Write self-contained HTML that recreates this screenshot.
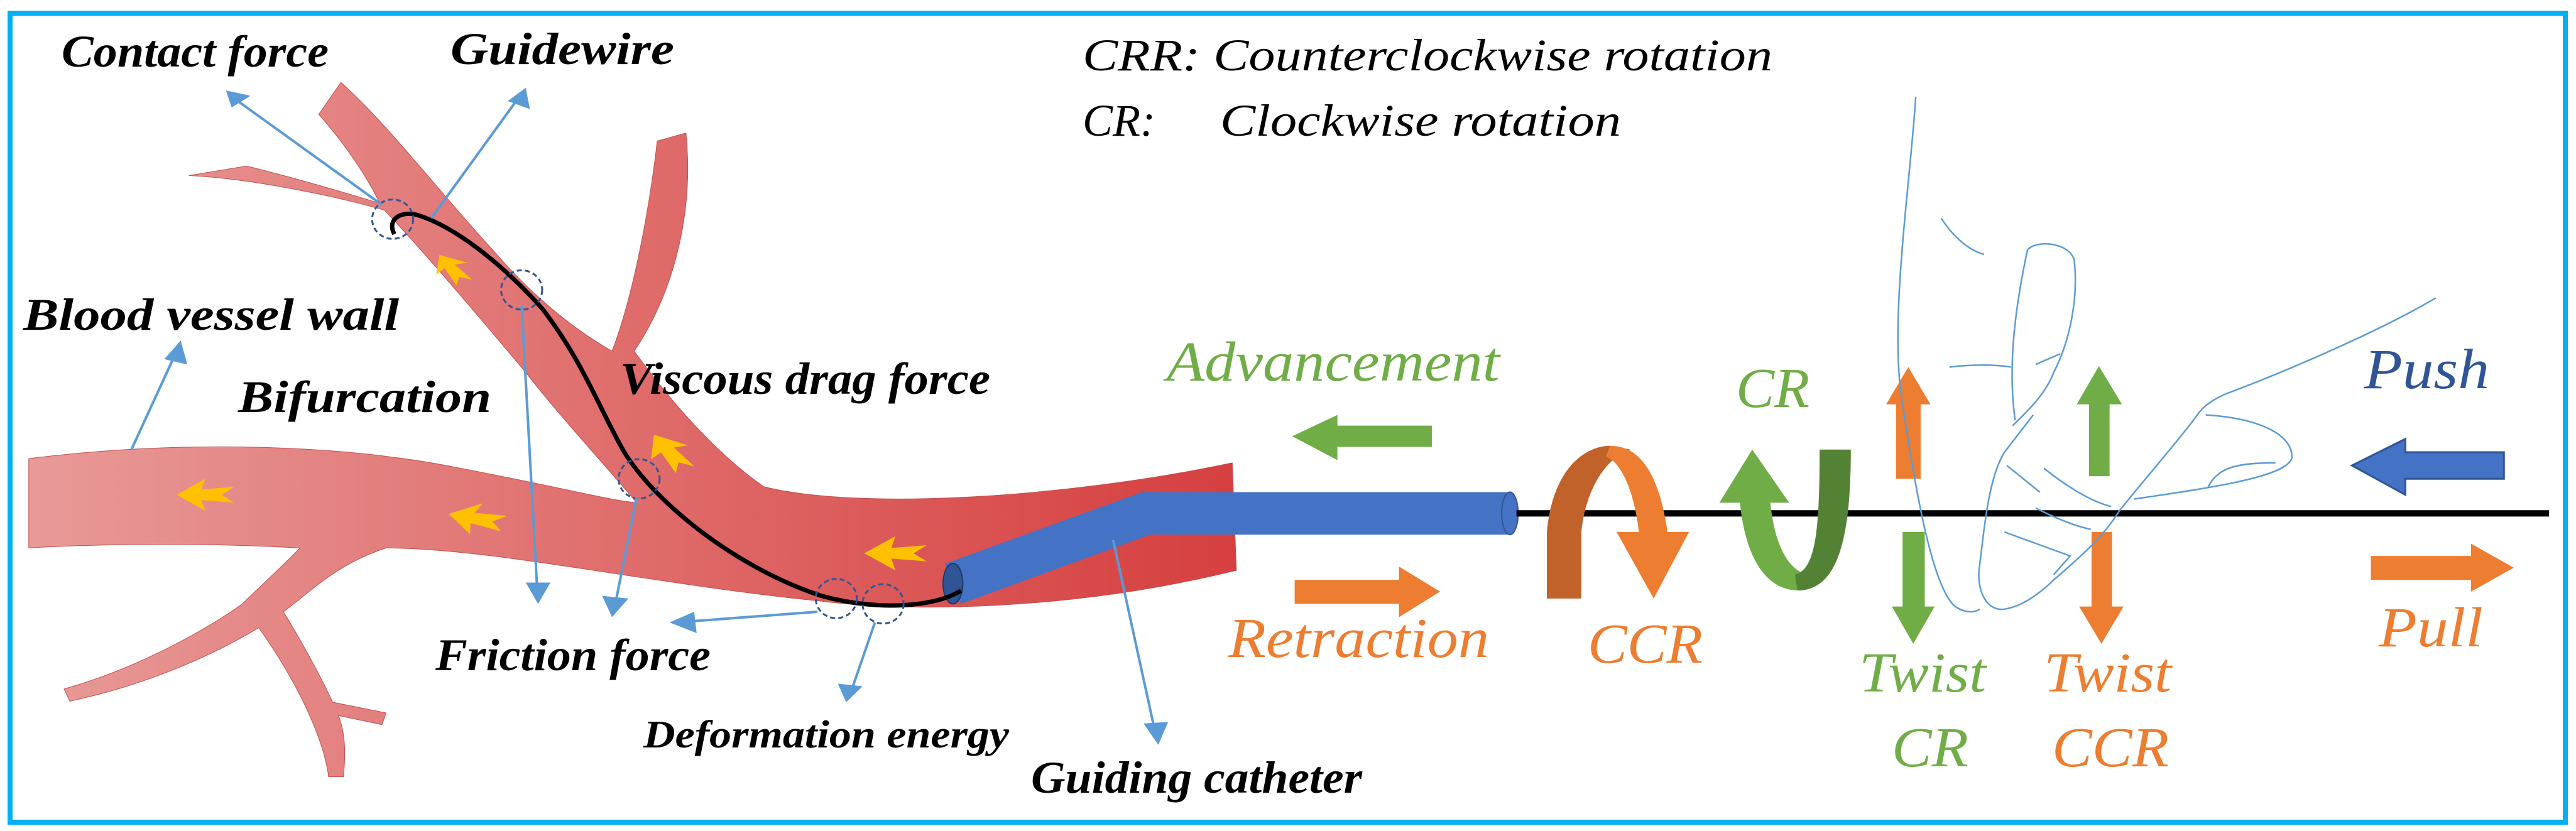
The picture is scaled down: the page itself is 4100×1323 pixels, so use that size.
<!DOCTYPE html>
<html><head><meta charset="utf-8"><style>
html,body{margin:0;padding:0;background:#fff;}
svg{display:block;}
svg text{font-family:"Liberation Serif","DejaVu Serif",serif !important;font-style:italic;}
.b{font-weight:bold;fill:#000;font-size:72px;}
</style></head><body>
<svg width="4100" height="1323" viewBox="0 0 4100 1323" xmlns="http://www.w3.org/2000/svg">
<defs>
<linearGradient id="vg" x1="0" y1="0" x2="1" y2="0">
<stop offset="0" stop-color="#e89a98"/><stop offset="1" stop-color="#d63f3f"/>
</linearGradient>
</defs>
<rect x="16" y="21" width="4067" height="1288" fill="#fff" stroke="#00b0f0" stroke-width="8"/>
<g transform="scale(1.3075,0.847)">
<path fill="url(#vg)" stroke="#c0504d" stroke-width="1" vector-effect="non-scaling-stroke" d="M35,862 C200,830 400,830 560,880 C680,915 740,940 775,945 C740,880 680,780 640,700 C580,590 520,480 468,395 C400,365 300,335 230,330 L300,312 C360,335 420,362 462,382 C450,340 420,270 388,215 L415,155 C470,230 540,370 600,470 C650,560 700,620 745,660 C770,560 790,400 800,265 L835,250 C845,400 820,550 772,660 C800,720 860,840 930,915 C1050,960 1300,935 1500,870 L1505,1072 C1300,1150 1100,1150 1000,1130 C800,1100 600,1030 470,1030 C410,1060 380,1110 345,1150 C365,1200 390,1270 405,1320 L470,1340 L465,1362 L412,1345 C422,1385 420,1430 418,1460 L400,1460 C395,1400 370,1300 315,1180 C250,1240 170,1290 85,1318 L78,1295 C170,1255 255,1180 295,1135 C325,1090 350,1055 365,1030 C250,1020 120,1022 35,1030 Z"/>
<g fill="#ffc000">
<path transform="translate(250,930)" d="M-35,0 L0,-30 L-5,-10 L35,-15 L20,0 L35,15 L-5,10 L0,30 Z"/>
<path transform="translate(580,975) rotate(15)" d="M-35,0 L0,-30 L-5,-10 L35,-15 L20,0 L35,15 L-5,10 L0,30 Z"/>
<path transform="translate(1090,1040)" d="M-38,0 L0,-32 L-5,-10 L38,-15 L22,0 L38,15 L-5,10 L0,32 Z"/>
<path transform="translate(815,850) rotate(60)" d="M-38,0 L0,-26 L-5,-9 L38,-13 L22,0 L38,13 L-5,9 L0,26 Z"/>
<path transform="translate(550,505) rotate(60)" d="M-30,0 L0,-22 L-5,-7 L30,-11 L18,0 L30,11 L-5,7 L0,22 Z"/>
</g>
<path fill="#4472c4" d="M1150,1060 L1390,925 L1838,925 L1838,1005 L1400,1005 L1170,1135 Z"/>
<ellipse cx="1838" cy="965" rx="10" ry="40" fill="#4472c4" stroke="#2f5597" stroke-width="2" vector-effect="non-scaling-stroke"/>
<ellipse cx="1160" cy="1097" rx="12" ry="38" fill="#2f5597" stroke="#203864" stroke-width="2" vector-effect="non-scaling-stroke"/>
<line x1="1846" y1="965" x2="3103" y2="965" stroke="#000" stroke-width="12"/>
<path d="M480,440 C470,410 490,395 510,405 C560,430 620,510 660,580 C710,680 730,770 760,850 C800,950 900,1070 1000,1120 C1070,1150 1140,1140 1170,1110" fill="none" stroke="#000" stroke-width="7" vector-effect="non-scaling-stroke"/>
<g fill="none" stroke="#2f5597" stroke-width="3" stroke-dasharray="8,5">
<ellipse cx="478" cy="412" rx="25" ry="37" vector-effect="non-scaling-stroke"/>
<ellipse cx="635" cy="545" rx="25" ry="37" vector-effect="non-scaling-stroke"/>
<ellipse cx="778" cy="900" rx="25" ry="37" vector-effect="non-scaling-stroke"/>
<ellipse cx="1018" cy="1125" rx="25" ry="37" vector-effect="non-scaling-stroke"/>
<ellipse cx="1075" cy="1135" rx="25" ry="37" vector-effect="non-scaling-stroke"/>
</g>
<g stroke="#5b9bd5" stroke-width="4" fill="none">
<line x1="465" y1="385" x2="285" y2="185" vector-effect="non-scaling-stroke"/>
<line x1="525" y1="410" x2="632" y2="182" vector-effect="non-scaling-stroke"/>
<line x1="160" y1="845" x2="215" y2="660" vector-effect="non-scaling-stroke"/>
<line x1="635" y1="575" x2="654" y2="1110" vector-effect="non-scaling-stroke"/>
<line x1="775" y1="935" x2="749" y2="1135" vector-effect="non-scaling-stroke"/>
<line x1="995" y1="1150" x2="840" y2="1168" vector-effect="non-scaling-stroke"/>
<line x1="1065" y1="1170" x2="1036" y2="1300" vector-effect="non-scaling-stroke"/>
<line x1="1355" y1="1015" x2="1406" y2="1375" vector-effect="non-scaling-stroke"/>
</g>
<g fill="#5b9bd5">
<polygon points="275,170 305,180 282,202"/>
<polygon points="640,165 645,205 618,190"/>
<polygon points="220,640 228,685 200,675"/>
<polygon points="655,1135 640,1095 670,1095"/>
<polygon points="745,1160 733,1120 765,1125"/>
<polygon points="815,1170 845,1150 848,1190"/>
<polygon points="1030,1320 1020,1285 1050,1290"/>
<polygon points="1410,1400 1392,1360 1422,1357"/>
</g>
<polygon fill="#70ad47" points="1573,820 1628,780 1628,800 1743,800 1743,840 1628,840 1628,865"/>
<polygon fill="#ed7d31" points="1576,1090 1703,1090 1703,1065 1753,1112 1703,1160 1703,1135 1576,1135"/>
<polygon fill="#4472c4" stroke="#2f5597" stroke-width="3" vector-effect="non-scaling-stroke" points="2863,875 2928,825 2928,850 3048,850 3048,900 2928,900 2928,930"/>
<polygon fill="#ed7d31" points="2886,1045 3008,1045 3008,1022 3060,1067 3008,1112 3008,1090 2886,1090"/>
<polygon fill="#ed7d31" points="2308,900 2308,760 2296,760 2323,690 2350,760 2338,760 2338,900"/>
<polygon fill="#70ad47" points="2316,1000 2343,1000 2343,1140 2355,1140 2329,1210 2303,1140 2316,1140"/>
<polygon fill="#70ad47" points="2543,895 2543,760 2528,760 2555,688 2583,760 2568,760 2568,895"/>
<polygon fill="#ed7d31" points="2546,1000 2571,1000 2571,1140 2585,1140 2558,1210 2531,1140 2546,1140"/>
<path fill="#c0622a" d="M1883,1125 L1883,1000 C1890,880 1930,838 1960,838 L1985,845 C1955,860 1930,920 1925,1000 L1925,1125 Z"/>
<path fill="#ed7d31" d="M1960,838 C2000,838 2020,900 2030,1000 L2056,1000 L2013,1125 L1968,1000 L1995,1000 C1990,930 1975,870 1955,858 Z"/>
<path fill="#70ad47" d="M2133,845 L2178,945 L2155,945 C2160,1020 2175,1070 2200,1080 L2190,1110 C2150,1110 2125,1050 2118,945 L2093,945 Z"/>
<path fill="#548235" d="M2188,1110 C2240,1110 2253,1000 2253,845 L2215,845 C2215,1000 2210,1070 2185,1080 Z"/>
<g fill="none" stroke="#5b9bd5" stroke-width="2.5">
<path vector-effect="non-scaling-stroke" d="M2332,182 C2325,350 2300,600 2315,750 C2330,900 2350,1100 2380,1140 C2395,1155 2405,1150 2410,1145"/>
<path vector-effect="non-scaling-stroke" d="M2363,410 C2375,440 2395,470 2415,478"/>
<path vector-effect="non-scaling-stroke" d="M2453,790 C2445,700 2450,600 2468,470 C2478,450 2520,455 2525,490 C2530,560 2520,640 2500,700 C2490,740 2470,770 2450,800"/>
<path vector-effect="non-scaling-stroke" d="M2373,690 C2400,685 2430,685 2448,690 M2478,685 L2508,665"/>
<path vector-effect="non-scaling-stroke" d="M2965,560 C2900,620 2780,700 2710,740 C2680,760 2675,780 2670,790 C2640,850 2600,920 2580,960 C2560,1010 2530,1050 2500,1090 C2480,1120 2460,1140 2440,1145 C2415,1150 2405,1100 2410,1060 C2415,1000 2420,900 2440,850 C2455,820 2465,800 2475,780"/>
<path vector-effect="non-scaling-stroke" d="M2685,780 C2740,785 2790,810 2790,860 C2785,895 2700,915 2598,938 M2688,915 C2700,880 2720,870 2770,870"/>
<path vector-effect="non-scaling-stroke" d="M2443,875 L2483,925 M2488,880 C2520,920 2550,945 2570,952 M2478,955 C2510,980 2530,990 2545,995 M2440,1000 L2520,1045 L2500,1080"/>
</g>
</g>
<g font-family="Liberation Serif, DejaVu Serif, serif" font-style="italic">
<text class="b" font-family="Liberation Serif, serif" x="98" y="106" textLength="425" lengthAdjust="spacingAndGlyphs">Contact force</text>
<text class="b" font-family="Liberation Serif, serif" x="717" y="102" textLength="356" lengthAdjust="spacingAndGlyphs">Guidewire</text>
<text class="b" font-family="Liberation Serif, serif" x="37" y="525" textLength="598" lengthAdjust="spacingAndGlyphs">Blood vessel wall</text>
<text class="b" font-family="Liberation Serif, serif" x="379" y="656" textLength="403" lengthAdjust="spacingAndGlyphs">Bifurcation</text>
<text class="b" font-family="Liberation Serif, serif" x="987" y="627" textLength="589" lengthAdjust="spacingAndGlyphs">Viscous drag force</text>
<text class="b" font-family="Liberation Serif, serif" x="693" y="1067" textLength="438" lengthAdjust="spacingAndGlyphs">Friction force</text>
<text class="b" font-family="Liberation Serif, serif" x="1024" y="1190" style="font-size:62px" textLength="582" lengthAdjust="spacingAndGlyphs">Deformation energy</text>
<text class="b" font-family="Liberation Serif, serif" x="1641" y="1262" textLength="527" lengthAdjust="spacingAndGlyphs">Guiding catheter</text>
<text font-family="Liberation Serif, serif" x="1723" y="112" font-size="72" fill="#000" textLength="1098" lengthAdjust="spacingAndGlyphs">CRR: Counterclockwise rotation</text>
<text font-family="Liberation Serif, serif" x="1723" y="216" font-size="72" fill="#000">CR:</text>
<text font-family="Liberation Serif, serif" x="1942" y="216" font-size="72" fill="#000" textLength="638" lengthAdjust="spacingAndGlyphs">Clockwise rotation</text>
<g font-size="90" font-family="Liberation Serif, serif">
<text x="1857" y="606" fill="#70ad47" textLength="530" lengthAdjust="spacingAndGlyphs">Advancement</text>
<text x="1955" y="1046" fill="#ed7d31" textLength="415" lengthAdjust="spacingAndGlyphs">Retraction</text>
<text x="2527" y="1055" fill="#ed7d31" textLength="183" lengthAdjust="spacingAndGlyphs">CCR</text>
<text x="2763" y="648" fill="#70ad47" textLength="117" lengthAdjust="spacingAndGlyphs">CR</text>
<text x="2959" y="1101" fill="#70ad47" textLength="202" lengthAdjust="spacingAndGlyphs">Twist</text>
<text x="3011" y="1220" fill="#70ad47" textLength="122" lengthAdjust="spacingAndGlyphs">CR</text>
<text x="3253" y="1101" fill="#ed7d31" textLength="203" lengthAdjust="spacingAndGlyphs">Twist</text>
<text x="3266" y="1220" fill="#ed7d31" textLength="186" lengthAdjust="spacingAndGlyphs">CCR</text>
<text x="3763" y="618" fill="#2f5597" textLength="199" lengthAdjust="spacingAndGlyphs">Push</text>
<text x="3786" y="1029" fill="#ed7d31" textLength="166" lengthAdjust="spacingAndGlyphs">Pull</text>
</g>
</g>
</svg>
</body></html>
